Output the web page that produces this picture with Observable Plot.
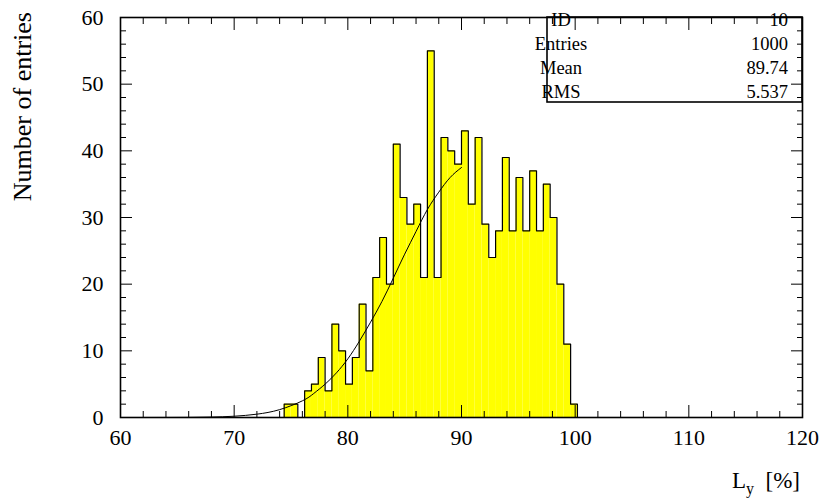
<!DOCTYPE html>
<html><head><meta charset="utf-8">
<script src="https://cdn.jsdelivr.net/npm/d3@7"></script>
<script src="https://cdn.jsdelivr.net/npm/@observablehq/plot@0.6"></script>
<style>html,body{margin:0;padding:0;background:#fff;}</style>
</head><body><div id="chart"></div>
<script>
// Histogram bin edges (L_y in %) and entries per bin
const binEdges = [74.4,75.0,75.6,76.2,76.8,77.4,78.0,78.6,79.2,79.8,80.4,81.0,81.6,82.2,82.8,83.4,84.0,84.6,85.2,85.8,86.4,87.0,87.6,88.2,88.8,89.4,90.0,90.6,91.2,91.8,92.4,93.0,93.6,94.2,94.8,95.4,96.0,96.6,97.2,97.8,98.4,99.0,99.6,100.2];
const counts = [2,2,0,4,5,9,4,14,10,5,9,17,7,21,27,20,41,33,29,32,21,55,21,42,40,38,43,32,42,29,24,28,39,28,36,28,37,28,35,30,20,11,2];
// Fitted curve
const curveX = [60,62,64,66,68,70,72,74,76,77,78,79,80,81,82,83,84,85,86,87,88,89,90];
const curveY = [0,0.001,0.006,0.02,0.07,0.19,0.5,1.18,2.5,3.6,5.0,6.7,8.8,11.4,14.3,17.4,20.9,24.5,27.9,31.2,33.8,36.0,37.5];
// Axis ticks
const xMajor = [60,70,80,90,100,110,120];
const xMinor = [62,64,66,68,72,74,76,78,82,84,86,88,92,94,96,98,102,104,106,108,112,114,116,118];
const yMajor = [0,10,20,30,40,50,60];
const yMinor = [2,4,6,8,12,14,16,18,22,24,26,28,32,34,36,38,42,44,46,48,52,54,56,58];
// Statistics box
const statLabels = ["ID","Entries","Mean","RMS"];
const statValues = ["10","1000","89.74","5.537"];
const yTitle = "Number of entries";

const W = 822, H = 504, mL = 120, mR = 20, mT = 17, mB = 87;
const FONT = "'Liberation Serif','Times New Roman',Times,serif";

const bins = counts.map((c, i) => ({x1: binEdges[i], x2: binEdges[i + 1], y: c}));
const steps = [{x: binEdges[0], y: 0},
  ...counts.map((c, i) => ({x: binEdges[i], y: c})),
  {x: binEdges[binEdges.length - 1], y: counts[counts.length - 1]},
  {x: binEdges[binEdges.length - 1], y: 0}];
const curve = curveX.map((x, i) => ({x, y: curveY[i]}));

const tickOpts = {fill: "none", label: null, stroke: "black", strokeWidth: 1};
const chart = Plot.plot({
  width: W, height: H,
  marginLeft: mL, marginRight: mR, marginTop: mT, marginBottom: mB,
  style: {fontFamily: FONT, fontSize: "22px", color: "black", background: "white"},
  x: {domain: [60, 120], axis: null},
  y: {domain: [0, 60], axis: null},
  marks: [
    Plot.rectY(bins, {x1: "x1", x2: "x2", y: "y", fill: "#ffff00", inset: 0}),
    Plot.line(steps, {x: "x", y: "y", curve: "step-after", stroke: "black", strokeWidth: 1.2}),
    Plot.line(curve, {x: "x", y: "y", curve: "natural", stroke: "black", strokeWidth: 1}),
    Plot.frame({stroke: "black", strokeWidth: 1.6}),
    Plot.axisX(xMajor, {anchor: "bottom", tickSize: -12, ...tickOpts}),
    Plot.axisX(xMinor, {anchor: "bottom", tickSize: -6, ...tickOpts}),
    Plot.axisX(xMajor, {anchor: "top", tickSize: -12, ...tickOpts}),
    Plot.axisX(xMinor, {anchor: "top", tickSize: -6, ...tickOpts}),
    Plot.axisY(yMajor, {anchor: "left", tickSize: -12, ...tickOpts}),
    Plot.axisY(yMinor, {anchor: "left", tickSize: -6, ...tickOpts}),
    Plot.axisY(yMajor, {anchor: "right", tickSize: -12, ...tickOpts}),
    Plot.axisY(yMinor, {anchor: "right", tickSize: -6, ...tickOpts}),
    Plot.axisX(xMajor, {anchor: "bottom", tickSize: 0, tickPadding: 12, fontSize: 22, fill: "black", label: null}),
    Plot.axisY(yMajor, {anchor: "left", tickSize: 0, tickPadding: 17, fontSize: 22, fill: "black", label: null})
  ]
});
document.getElementById("chart").appendChild(chart);

const svg = d3.select(chart);
// statistics box
const bx0 = 547, bx1 = W - mR, by0 = mT, by1 = 102;
const box = svg.append("g").attr("font-family", FONT).attr("font-size", 18.5);
box.append("rect").attr("x", bx0).attr("y", by0).attr("width", bx1 - bx0).attr("height", by1 - by0)
  .attr("fill", "white").attr("stroke", "black").attr("stroke-width", 1.6);
statLabels.forEach((s, i) => {
  const yy = 26 + i * 24;
  box.append("text").attr("x", 561).attr("y", yy).text(s);
  box.append("text").attr("x", 788).attr("y", yy).attr("text-anchor", "end").text(statValues[i]);
});
// bring ticks and frame above the box
svg.selectAll('[aria-label="x-axis tick"], [aria-label="y-axis tick"], [aria-label="frame"]').raise();

// axis titles
svg.append("text").attr("font-family", FONT).attr("font-size", 26)
  .attr("transform", "translate(31,12) rotate(-90)").attr("text-anchor", "end").text(yTitle);
const xt = svg.append("text").attr("font-family", FONT).attr("font-size", 23)
  .attr("x", 800).attr("y", 488).attr("text-anchor", "end");
xt.append("tspan").text("L");
xt.append("tspan").attr("dy", 6).attr("font-size", 16).text("y");
xt.append("tspan").attr("dy", -6).attr("xml:space", "preserve").text("\u00a0 [%]");
</script></body></html>
